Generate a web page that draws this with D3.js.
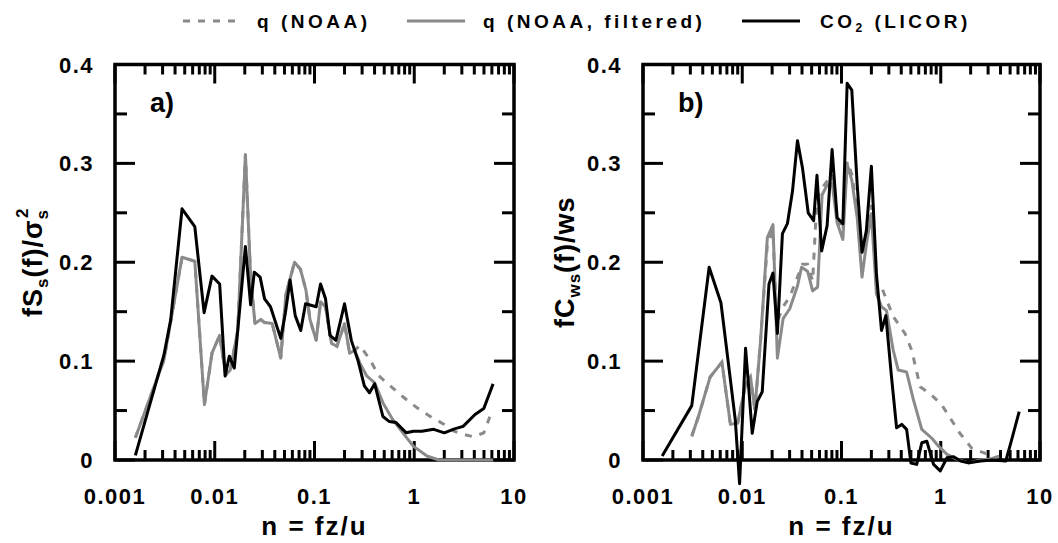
<!DOCTYPE html>
<html><head><meta charset="utf-8">
<script src="https://cdn.jsdelivr.net/npm/d3@7"></script>
<style>
body{margin:0;background:#fff}
svg{display:block}
text{font-family:"Liberation Sans",Arial,sans-serif;font-weight:bold;fill:#000}
</style>
</head><body>
<svg id="c" width="1058" height="543"></svg>
<script>
// ---------------- DATA ----------------
const xTickValues = [0.001, 0.01, 0.1, 1, 10];
const xTickLabels = ["0.001", "0.01", "0.1", "1", "10"];
const yTickValues = [0, 0.1, 0.2, 0.3, 0.4];
const yTickLabels = ["0", "0.1", "0.2", "0.3", "0.4"];
const seriesNames = ["q (NOAA)", "q (NOAA, filtered)", "CO2 (LICOR)"];

// Panel a) fSs(f)/σs² : [n, value]
const aCO2 = [[0.0016,0.0047],[0.00309,0.106],[0.00362,0.142],[0.0047,0.254],[0.00631,0.236],[0.00782,0.149],
 [0.00938,0.186],[0.0112,0.178],[0.0127,0.085],[0.014,0.105],[0.0157,0.093],[0.0203,0.216],[0.0229,0.157],
 [0.0249,0.19],[0.0285,0.185],[0.0316,0.163],[0.0362,0.155],[0.0459,0.123],[0.0509,0.148],[0.0569,0.182],
 [0.0641,0.146],[0.0728,0.131],[0.0813,0.158],[0.104,0.155],[0.115,0.178],[0.129,0.163],[0.143,0.126],
 [0.164,0.121],[0.2,0.158],[0.234,0.121],[0.274,0.1],[0.316,0.075],[0.356,0.068],[0.401,0.077],[0.485,0.044],
 [0.56,0.039],[0.656,0.038],[0.74,0.0325],[0.834,0.0275],[0.977,0.029],[1.19,0.029],[1.57,0.031],[2.0,0.0275],
 [2.53,0.0315],[3.09,0.034],[4.07,0.046],[4.98,0.052],[6.17,0.077]];
const aQFilt = [[0.0016,0.0225],[0.00234,0.068],[0.00309,0.101],[0.0047,0.205],[0.00631,0.201],[0.00788,0.056],
 [0.00938,0.108],[0.0112,0.126],[0.0129,0.086],[0.0143,0.091],[0.017,0.131],[0.0203,0.309],[0.0229,0.185],
 [0.0253,0.138],[0.029,0.142],[0.0316,0.139],[0.0377,0.138],[0.0459,0.103],[0.0517,0.168],[0.0631,0.2],
 [0.0722,0.193],[0.082,0.172],[0.0902,0.142],[0.104,0.121],[0.115,0.16],[0.129,0.155],[0.148,0.118],
 [0.168,0.115],[0.2,0.138],[0.225,0.108],[0.253,0.111],[0.285,0.098],[0.334,0.085],[0.401,0.078],
 [0.485,0.058],[0.607,0.041],[0.769,0.0275],[0.977,0.014],[1.34,0.004],[1.77,0],[6.17,0]];
const aQ = [[0.0016,0.0225],[0.00234,0.068],[0.00309,0.101],[0.0047,0.205],[0.00631,0.201],[0.00788,0.056],
 [0.00938,0.108],[0.0112,0.126],[0.0129,0.086],[0.0143,0.091],[0.017,0.131],[0.0203,0.309],[0.0229,0.185],
 [0.0253,0.138],[0.029,0.142],[0.0316,0.139],[0.0377,0.138],[0.0459,0.103],[0.0517,0.168],[0.0631,0.2],
 [0.0722,0.193],[0.082,0.172],[0.0902,0.142],[0.104,0.121],[0.115,0.16],[0.129,0.155],[0.148,0.118],
 [0.168,0.115],[0.2,0.138],[0.225,0.108],[0.253,0.111],[0.285,0.116],[0.362,0.101],[0.442,0.085],
 [0.56,0.076],[0.769,0.064],[1.06,0.053],[1.45,0.044],[2.0,0.036],[2.53,0.029],[3.09,0.026],[3.92,0.0235],
 [4.98,0.0275],[5.83,0.046]];

// Panel b) fCws(f)/ws : [n, value]
const bCO2 = [[0.00156,0.004],[0.0031,0.055],[0.00464,0.195],[0.0061,0.159],[0.0076,0.081],[0.0085,0.041],
 [0.0094,-0.024],[0.0108,0.113],[0.0116,0.074],[0.0126,0.027],[0.01415,0.059],[0.0159,0.069],[0.0186,0.178],
 [0.0204,0.189],[0.0226,0.128],[0.0254,0.229],[0.0285,0.239],[0.0321,0.272],[0.036,0.323],[0.0405,0.295],
 [0.0462,0.25],[0.0524,0.242],[0.0566,0.288],[0.0631,0.2115],[0.0716,0.237],[0.0804,0.314],[0.0904,0.245],
 [0.1032,0.239],[0.114,0.381],[0.127,0.374],[0.144,0.278],[0.161,0.21],[0.178,0.232],[0.2,0.297],
 [0.225,0.188],[0.253,0.131],[0.28,0.146],[0.319,0.084],[0.359,0.0325],[0.404,0.036],[0.453,0.031],
 [0.501,-0.003],[0.573,-0.0044],[0.644,0.0174],[0.724,0.019],[0.846,-0.0044],[0.989,-0.011],[1.155,0.0023],
 [1.35,0.0033],[1.58,-0.001],[1.92,-0.0027],[2.52,-0.001],[3.3,0],[4.52,-0.001],[5.08,0.0174],[6.17,0.049]];
const bQFilt = [[0.0031,0.024],[0.00362,0.044],[0.00475,0.084],[0.00624,0.099],[0.0076,0.036],[0.009,0.0375],
 [0.0108,0.076],[0.0121,0.084],[0.0134,0.051],[0.0153,0.121],[0.0179,0.225],[0.0204,0.238],[0.0226,0.103],
 [0.0258,0.143],[0.0301,0.153],[0.036,0.176],[0.0396,0.195],[0.0455,0.191],[0.0512,0.171],[0.0575,0.175],
 [0.0637,0.268],[0.0716,0.278],[0.0804,0.28],[0.0904,0.24],[0.1032,0.223],[0.114,0.299],[0.127,0.283],
 [0.144,0.245],[0.161,0.185],[0.178,0.218],[0.2,0.249],[0.225,0.168],[0.253,0.155],[0.284,0.151],
 [0.332,0.111],[0.373,0.091],[0.453,0.089],[0.53,0.061],[0.644,0.031],[0.813,0.022],[0.951,0.014],
 [1.155,0.0057],[1.46,0.0007],[1.92,-0.003],[2.52,0],[3.18,0.001],[3.87,0.004]];
const bQ = [[0.0031,0.024],[0.00362,0.044],[0.00475,0.084],[0.00624,0.099],[0.0076,0.036],[0.009,0.0375],
 [0.0108,0.076],[0.0121,0.084],[0.0134,0.051],[0.0153,0.121],[0.0179,0.218],[0.0204,0.232],[0.0222,0.138],
 [0.0258,0.155],[0.0301,0.165],[0.036,0.185],[0.0405,0.198],[0.0455,0.198],[0.0512,0.181],[0.0566,0.265],
 [0.0637,0.275],[0.0716,0.282],[0.0804,0.289],[0.0904,0.245],[0.1032,0.232],[0.114,0.302],[0.127,0.289],
 [0.144,0.252],[0.161,0.208],[0.178,0.225],[0.2,0.258],[0.225,0.178],[0.253,0.175],[0.332,0.145],
 [0.436,0.128],[0.51,0.111],[0.62,0.074],[0.78,0.067],[1.02,0.056],[1.29,0.04],[1.56,0.027],[2.05,0.012],
 [3.13,0.005]];

// ---------------- DRAW ----------------
const svg = d3.select("#c");
const GRAY = "#8a8a8a";
const yTopPx = 64.5, yBottomPx = 460;

const panels = [
  {label:"a)", x0:115, x1:514, data:[aQ, aQFilt, aCO2], titleX:42, title:"a"},
  {label:"b)", x0:643, x1:1040, data:[bQ, bQFilt, bCO2], titleX:574, title:"b"}
];

panels.forEach(p => {
  const x = d3.scaleLog().domain([0.001, 10]).range([p.x0, p.x1]);
  const y = d3.scaleLinear().domain([0, 0.4]).range([yBottomPx, yTopPx]);
  const g = svg.append("g");

  x.ticks().forEach(t => {
    const major = Math.abs(Math.log10(t) - Math.round(Math.log10(t))) < 1e-6;
    const len = major ? 19 : 10;
    g.append("line").attr("x1", x(t)).attr("x2", x(t)).attr("y1", yBottomPx).attr("y2", yBottomPx - len)
      .attr("stroke", "#000").attr("stroke-width", 3);
    g.append("line").attr("x1", x(t)).attr("x2", x(t)).attr("y1", yTopPx).attr("y2", yTopPx + len)
      .attr("stroke", "#000").attr("stroke-width", 3);
  });
  y.ticks(8).forEach(t => {
    const major = Math.abs(t * 10 - Math.round(t * 10)) < 1e-6;
    const len = major ? 20 : 12;
    g.append("line").attr("x1", p.x0).attr("x2", p.x0 + len).attr("y1", y(t)).attr("y2", y(t))
      .attr("stroke", "#000").attr("stroke-width", 3);
    g.append("line").attr("x1", p.x1).attr("x2", p.x1 - len).attr("y1", y(t)).attr("y2", y(t))
      .attr("stroke", "#000").attr("stroke-width", 3);
  });
  g.append("rect").attr("x", p.x0).attr("y", yTopPx).attr("width", p.x1 - p.x0).attr("height", yBottomPx - yTopPx)
    .attr("fill", "none").attr("stroke", "#000").attr("stroke-width", 3.5);

  xTickValues.forEach((t, i) => {
    g.append("text").attr("x", x(t)).attr("y", 504).attr("text-anchor", "middle")
      .attr("font-size", 22).attr("letter-spacing", "1.5px").text(xTickLabels[i]);
  });
  yTickValues.forEach((t, i) => {
    g.append("text").attr("x", p.x0 - 21).attr("y", y(t) + 8).attr("text-anchor", "end")
      .attr("font-size", 22).attr("letter-spacing", "1.5px").text(yTickLabels[i]);
  });

  g.append("text").attr("x", (p.x0 + p.x1) / 2).attr("y", 535).attr("text-anchor", "middle")
    .attr("font-size", 26).attr("letter-spacing", "2px").text("n = fz/u");

  const yt = g.append("text").attr("transform", `translate(${p.titleX},${(yTopPx + yBottomPx) / 2}) rotate(-90)`)
    .attr("text-anchor", "middle").attr("font-size", 27).attr("letter-spacing", "1px");
  if (p.title === "a") {
    yt.append("tspan").text("fS");
    yt.append("tspan").attr("font-size", 17).attr("dy", 6).text("s");
    yt.append("tspan").attr("dy", -6).text("(f)/σ");
    yt.append("tspan").attr("font-size", 17).attr("dy", 6).text("s");
    yt.append("tspan").attr("font-size", 17).attr("dy", -20).attr("dx", -9).text("2");
  } else {
    yt.append("tspan").text("fC");
    yt.append("tspan").attr("font-size", 17).attr("dy", 6).text("ws");
    yt.append("tspan").attr("dy", -6).text("(f)/ws");
  }

  g.append("text").attr("x", p.x0 + 35).attr("y", 112).attr("font-size", 27).text(p.label);

  const line = d3.line().x(d => x(d[0])).y(d => y(d[1]));
  g.append("path").datum(p.data[0]).attr("d", line).attr("fill", "none").attr("stroke", GRAY)
    .attr("stroke-width", 3).attr("stroke-dasharray", "7,8");
  g.append("path").datum(p.data[1]).attr("d", line).attr("fill", "none").attr("stroke", GRAY)
    .attr("stroke-width", 3).attr("stroke-linejoin", "round");
  g.append("path").datum(p.data[2]).attr("d", line).attr("fill", "none").attr("stroke", "#000")
    .attr("stroke-width", 3).attr("stroke-linejoin", "round");
});

const leg = svg.append("g");
const legItems = [
  {x1:183, x2:240, tx:257, stroke:GRAY, dash:"7,8"},
  {x1:407, x2:465, tx:483, stroke:GRAY, dash:null},
  {x1:742, x2:800, tx:820, stroke:"#000", dash:null}
];
legItems.forEach((it, i) => {
  const l = leg.append("line").attr("x1", it.x1).attr("x2", it.x2).attr("y1", 21).attr("y2", 21)
    .attr("stroke", it.stroke).attr("stroke-width", 3);
  if (it.dash) l.attr("stroke-dasharray", it.dash);
  const t = leg.append("text").attr("x", it.tx).attr("y", 28).attr("font-size", 19).attr("letter-spacing", "3.5px");
  if (i === 2) {
    t.append("tspan").text("CO");
    t.append("tspan").attr("font-size", 12).attr("dy", 4).text("2");
    t.append("tspan").attr("dy", -4).text(" (LICOR)");
  } else {
    t.text(seriesNames[i]);
  }
});
</script>
</body></html>
